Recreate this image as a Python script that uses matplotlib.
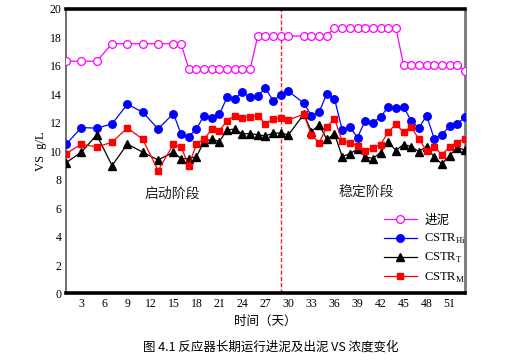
import numpy as np
import matplotlib.pyplot as plt

plt.rcParams['font.family'] = ['Liberation Serif', 'Noto Sans CJK SC', 'DejaVu Sans']

# sampling days (day 31 missing)
days = [1, 3, 5, 7, 9, 11, 13, 15, 16, 17, 18, 19, 20, 21, 22, 23, 24, 25, 26,
        27, 28, 29, 30, 32, 33, 34, 35, 36, 37, 38, 39, 40, 41, 42, 43, 44, 45,
        46, 47, 48, 49, 50, 51, 52, 53]

feed = [16.31, 16.31, 16.31, 17.54, 17.54, 17.54, 17.54, 17.54, 17.54,
        15.77, 15.77, 15.77, 15.77, 15.77, 15.77, 15.77, 15.77, 15.77, 18.08,
        18.08, 18.08, 18.08, 18.08, 18.08, 18.08, 18.08, 18.08, 18.67, 18.67,
        18.67, 18.67, 18.67, 18.67, 18.67, 18.67, 18.67, 16.05, 16.05, 16.05,
        16.05, 16.05, 16.05, 16.05, 16.05, 15.65]

cstr_hi = [10.48, 11.65, 11.61, 11.91, 13.29, 12.73, 11.56, 12.63, 11.19,
           11.02, 11.56, 12.49, 12.33, 12.59, 13.78, 13.68, 14.15, 13.78, 13.89,
           14.41, 13.54, 13.96, 14.20, 13.36, 12.49, 12.73, 14.04, 13.68, 11.49,
           11.70, 10.95, 12.14, 12.00, 12.38, 13.12, 13.05, 13.12, 12.12, 11.61,
           12.49, 10.88, 11.16, 11.75, 11.91, 12.38]

cstr_t = [9.19, 9.92, 11.14, 8.98, 10.50, 9.92, 9.38, 9.92, 9.47, 9.47, 9.61,
          10.67, 10.83, 10.67, 11.49, 11.54, 11.21, 11.23, 11.14, 11.07, 11.26,
          11.26, 11.14, 12.59, 11.37, 11.84, 10.83, 11.21, 9.61, 9.82, 10.13,
          9.61, 9.47, 9.90, 10.67, 10.04, 10.46, 10.32, 9.96, 10.32, 9.57, 9.10,
          9.68, 10.25, 10.08]

cstr_m = [9.82, 10.48, 10.29, 10.62, 11.63, 10.83, 8.63, 10.48, 10.29, 8.98,
          10.48, 10.83, 11.54, 11.44, 12.14, 12.49, 12.33, 12.42, 12.49, 11.89,
          12.26, 12.31, 12.19, 12.59, 11.12, 10.60, 11.68, 12.28, 10.69, 10.58,
          10.39, 10.04, 10.20, 10.46, 11.33, 11.89, 11.33, 11.72, 10.83, 10.04,
          10.29, 9.75, 10.29, 10.60, 10.88]

xticks = list(range(3, 52, 3))
yticks = list(range(0, 21, 2))

fig = plt.figure(figsize=(5.2, 3.61), dpi=100)
ax = fig.add_axes([0.127, 0.187, 0.767, 0.789])

ax.plot(days, feed, color='#ff00ff', lw=0.9, marker='o', ms=5.6,
        mfc='white', mec='#ff00ff', mew=0.9, label='进泥', zorder=3)
ax.plot(days, cstr_hi, color='#0000ff', lw=0.9, marker='o', ms=5.4,
        label='CSTR$_{\\mathregular{Hi}}$', zorder=3)
ax.plot(days, cstr_t, color='black', lw=0.9, marker='^', ms=6.2,
        label='CSTR$_{\\mathregular{T}}$', zorder=4)
ax.plot(days, cstr_m, color='#ff0000', lw=0.9, marker='s', ms=5.0,
        label='CSTR$_{\\mathregular{M}}$', zorder=4)

# boundary between start-up and steady phase
ax.axvline(29, color='#ff2020', lw=1.0, ls=(0, (3, 1.5)), zorder=2)

ax.set_xlim(1, 53)
ax.set_ylim(0, 20)
ax.set_xticks(xticks)
ax.set_yticks(yticks)
ax.tick_params(length=0, labelsize=8.5, pad=3)

ax.spines['top'].set_linewidth(2.6)
ax.spines['bottom'].set_linewidth(2.6)
ax.spines['left'].set_color('#555555')
ax.spines['left'].set_linewidth(1.2)
ax.spines['right'].set_color('#777777')
ax.spines['right'].set_linewidth(2.0)

ax.text(14.9, 7.0, '启动阶段', fontsize=10, ha='center', va='center',
        family=['Noto Sans CJK SC'], color='#222222')
ax.text(40.2, 7.1, '稳定阶段', fontsize=10, ha='center', va='center',
        family=['Noto Sans CJK SC'], color='#222222')

ax.set_ylabel('VS  g/L', fontsize=9, labelpad=2)
ax.set_xlabel('时间（天）', fontsize=9, family=['Noto Sans CJK SC'],
              labelpad=4)

leg = ax.legend(loc='lower right', bbox_to_anchor=(1.025, 0.0), frameon=False,
                fontsize=9, handlelength=2.6, labelspacing=0.42,
                handletextpad=0.6, borderaxespad=0.3)

fig.text(0.52, 0.038, '图 4.1 反应器长期运行进泥及出泥 VS 浓度变化',
         ha='center', va='center', fontsize=9,
         family=['Noto Sans CJK SC', 'DejaVu Sans'])

fig.savefig('out.png', dpi=100)
